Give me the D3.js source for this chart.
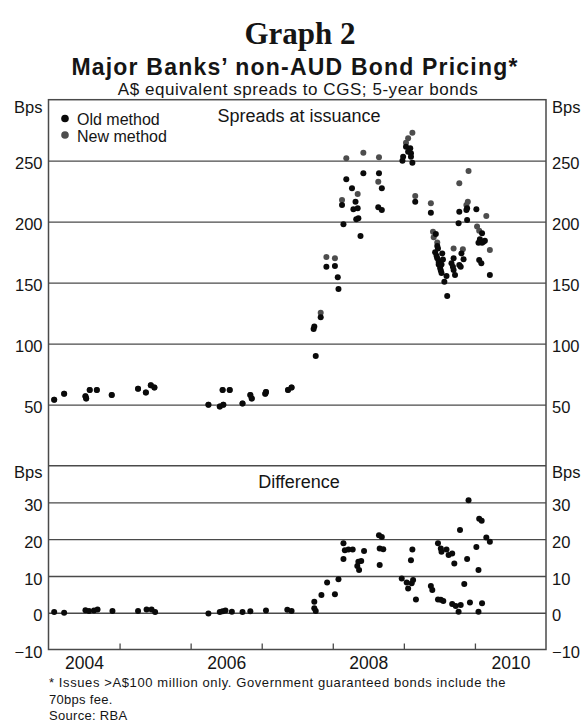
<!DOCTYPE html>
<html><head><meta charset="utf-8">
<script src="https://cdn.jsdelivr.net/npm/d3@7"></script>
<style>
html,body{margin:0;padding:0;background:#fff;}
svg text{font-family:"Liberation Sans",Arial,sans-serif;fill:#151515;}
</style></head>
<body>
<script>
// ---------- data ----------
const oldDates = [2004.08,2004.22,2004.52,2004.53,2004.58,2004.68,2004.89,2005.26,2005.37,2005.44,2005.49,
  2006.25,2006.41,2006.46,2006.45,2006.55,2006.73,2006.84,2006.86,2007.05,2007.06,2007.37,2007.42,
  2007.73,2007.74,2007.76,2007.83,2007.91,2008.03,2008.07,2008.08,2008.13,2008.15,2008.19,2008.27,2008.29,2008.35,
  2008.32,2008.33,2008.36,2008.39,2008.43,2008.65,2008.69,2008.64,2008.69,
  2009.09,2008.99,2009.10,2009.03,2009.10,2008.98,2009.12,2009.06,2009.16,2009.38,
  2009.45,2009.47,2009.44,2009.48,2009.46,2009.47,2009.49,2009.49,2009.51,2009.52,2009.53,2009.55,2009.54,2009.57,
  2009.53,2009.61,2009.60,2009.70,2009.67,2009.69,2009.70,2009.72,2009.81,2009.84,2009.78,2009.80,
  2009.89,2009.88,2010.02,2009.78,2009.89,2009.77,2010.10,2010.07,2010.12,2010.14,2010.05,2010.10,2010.06,2010.09,2010.21];
const oldSpreads = [54,59,57,55,62,62,58,63,60,66,64,
  50,48.5,50,62,62,51,58,55,59,60.5,62,64,
  112,114,90,121.6,163,163.7,154.4,144.8,213.7,198,234.8,227.4,210.2,211,
  216.4,202,202.8,188.3,239.7,239.7,227.4,211.8,209.6,
  260.2,253.3,256.1,261.5,253.3,250,248.4,257.4,216.4,207.4,
  190,180,175,178,172,170,167,165,162,160,158,169,174,150.8,
  165,139,155.5,170,166,163,160.4,156.3,174,169.2,164.5,163.1,
  211,209.6,210.2,208.2,201.4,198.7,190.5,185.6,183.6,184.4,182.8,182.8,168.6,165.9,156.3];
const newDates = [2004.08,2004.22,2004.52,2004.53,2004.58,2004.68,2004.89,2005.26,2005.37,2005.44,2005.49,
  2006.25,2006.41,2006.46,2006.45,2006.55,2006.73,2006.84,2006.86,2007.05,2007.06,2007.37,2007.42,
  2007.83,2007.91,2008.03,2008.13,2008.19,2008.35,2008.43,2008.65,2008.64,2009.12,2009.06,2009.03,2009.16,2009.38,
  2009.91,2009.78,2009.90,2009.88,2010.16,2009.41,2009.42,2009.47,2009.70,2009.83,2010.03,2010.06,2010.21];
const newSpreads = [54,59,57,55,62,62,58,63,60,66,64,
  50,48.5,50,62,62,51,58,55,59,60.5,62,64,
  125.4,171,170,217.8,252,222.7,256.6,252.8,232.8,273,268.4,264.8,221,215.1,
  241.6,231.5,216.4,213.7,204.7,191.8,187.3,183,178,177.4,196,192.6,176.8];
const diffDates = [2004.08,2004.22,2004.52,2004.57,2004.64,2004.69,2004.90,2005.26,2005.38,2005.45,2005.50,
  2006.25,2006.41,2006.45,2006.49,2006.58,2006.73,2006.84,2007.06,2007.36,2007.42,
  2007.74,2007.74,2007.76,2007.84,2007.92,2008.03,2008.08,2008.15,2008.15,2008.17,2008.22,2008.28,2008.44,
  2008.36,2008.40,2008.345,2008.37,2008.65,2008.69,2008.66,2008.71,2008.66,
  2008.97,2009.04,2009.06,2009.11,2009.13,2009.17,2009.12,2009.10,2009.38,2009.40,
  2009.48,2009.52,2009.53,2009.60,2009.63,2009.68,2009.71,2009.48,2009.52,2009.555,
  2009.68,2009.73,2009.80,2009.77,2009.79,2009.85,2009.89,2009.91,2009.93,2010.02,2010.05,2010.05,
  2010.06,2010.095,2010.10,2010.16,2010.21];
const diffValues = [0.2,0,0.7,0.5,0.6,0.9,0.5,0.5,0.9,0.9,0.2,
  -0.2,0.2,0.4,0.6,0.3,0.2,0.4,0.6,0.8,0.5,
  3,1.2,0.5,4.8,8.2,5,9.1,18.9,14.6,17,17.2,17.2,16.8,
  13.9,14.1,12.7,11.6,21.1,20.6,17.5,17.3,13,
  9.3,8.2,6.6,8,8.9,3.6,17.2,14.3,7.3,6.2,
  18.9,17.5,16.6,17.2,15.7,16.1,13.4,3.6,3.5,3.2,
  2.4,1.8,2.1,0.3,22.5,7.8,14.6,30.6,2.8,17.9,11.6,0.3,
  25.6,25,2.6,20.5,19.3];
const topTicks = [50,100,150,200,250];
const bottomTicks = [-10,0,10,20,30];
const yearTicks = [2005,2006,2007,2008,2009,2010];
const yearLabels = [2004,2006,2008,2010];
const legendLabels = ["Old method","New method"];

// ---------- layout ----------
const W = 587, H = 728;
const L = 48.5, R = 546, T = 99.7, MID = 465.7, B = 649.5;
const lineCol = "#4a4a4a", oldCol = "#0a0a0a", newCol = "#4d4d4d";
const tickFont = "16.5px";

const svg = d3.select("body").append("svg").attr("width", W).attr("height", H);
svg.append("rect").attr("width", W).attr("height", H).attr("fill", "#fff");

const x = d3.scaleLinear().domain([2004, 2011]).range([L, R]);
const yTop = d3.scaleLinear().domain([0, 300]).range([MID, T]);
const yBot = d3.scaleLinear().domain([-10, 40]).range([B, MID]);

// titles
svg.append("text").attr("x", 300).attr("y", 44).attr("text-anchor", "middle")
  .style("font-family", "'Liberation Serif','Times New Roman',serif").style("font-weight", "bold")
  .style("font-size", "31px").text("Graph 2");
svg.append("text").attr("x", 295).attr("y", 75).attr("text-anchor", "middle")
  .style("font-weight", "bold").style("font-size", "23px").style("letter-spacing", "1.2px")
  .text("Major Banks’ non-AUD Bond Pricing*");
svg.append("text").attr("x", 298).attr("y", 94.5).attr("text-anchor", "middle")
  .style("font-size", "17px").style("letter-spacing", "0.55px")
  .text("A$ equivalent spreads to CGS; 5-year bonds");

// gridlines via axes
function grid(scale, ticks) {
  const g = svg.append("g").attr("transform", `translate(${L},0)`)
    .call(d3.axisRight(scale).tickValues(ticks).tickSize(R - L).tickFormat(""));
  g.select(".domain").remove();
  g.selectAll("line").attr("stroke", lineCol).attr("stroke-width", 1.3);
}
grid(yTop, topTicks);
grid(yBot, bottomTicks.filter(d => d > -10));

// labels via axes
function labels(scale, ticks, side) {
  const ax = side === "left" ? d3.axisLeft(scale) : d3.axisRight(scale);
  const g = svg.append("g").attr("transform", `translate(${side === "left" ? L : R},0)`)
    .call(ax.tickValues(ticks).tickSize(0).tickPadding(side === "left" ? 6 : 6));
  g.select(".domain").remove();
  g.selectAll("text").style("font-size", tickFont).style("font-family", "'Liberation Sans',Arial,sans-serif")
    .attr("dy", "0.5em").attr("fill", "#151515");
}
labels(yTop, topTicks, "left");
labels(yTop, topTicks, "right");
labels(yBot, bottomTicks, "left");
labels(yBot, bottomTicks, "right");

// Bps unit labels
[[yTop(300) + 13.5], [yBot(40) + 12.5]].forEach(([yy]) => {
  svg.append("text").attr("x", L - 6).attr("y", yy).attr("text-anchor", "end").style("font-size", tickFont).text("Bps");
  svg.append("text").attr("x", R + 6).attr("y", yy).attr("text-anchor", "start").style("font-size", tickFont).text("Bps");
});

// frame
svg.append("rect").attr("x", L).attr("y", T).attr("width", R - L).attr("height", B - T)
  .attr("fill", "none").attr("stroke", lineCol).attr("stroke-width", 1.5);
svg.append("line").attr("x1", L).attr("x2", R).attr("y1", MID).attr("y2", MID)
  .attr("stroke", lineCol).attr("stroke-width", 1.5);

// x axis ticks and labels
const xt = svg.append("g").attr("transform", `translate(0,${B})`)
  .call(d3.axisBottom(x).tickValues(yearTicks).tickSize(-6).tickFormat(""));
xt.select(".domain").remove();
xt.selectAll("line").attr("stroke", lineCol).attr("stroke-width", 1.3);
const xl = svg.append("g").attr("transform", `translate(0,${B})`)
  .call(d3.axisBottom(x).tickValues(yearLabels.map(d => d + 0.5)).tickSize(0).tickPadding(7)
    .tickFormat((d, i) => String(yearLabels[i])));
xl.select(".domain").remove();
xl.selectAll("text").style("font-size", "17.5px").style("font-family", "'Liberation Sans',Arial,sans-serif").attr("fill", "#151515");

// panel titles
svg.append("text").attr("x", 299).attr("y", 122).attr("text-anchor", "middle").style("font-size", "18px").text("Spreads at issuance");
svg.append("text").attr("x", 299).attr("y", 488).attr("text-anchor", "middle").style("font-size", "18px").text("Difference");

// legend
legendLabels.forEach((lab, i) => {
  svg.append("circle").attr("cx", 65).attr("cy", 118.5 + i * 16.5).attr("r", 3.8).attr("fill", i ? newCol : oldCol);
  svg.append("text").attr("x", 77).attr("y", 125 + i * 16.5).style("font-size", "16px").text(lab);
});

// points
const r = 3;
svg.append("g").selectAll("circle").data(newDates.map((d, i) => [d, newSpreads[i]])).join("circle")
  .attr("cx", d => x(d[0])).attr("cy", d => yTop(d[1])).attr("r", r).attr("fill", newCol);
svg.append("g").selectAll("circle").data(oldDates.map((d, i) => [d, oldSpreads[i]])).join("circle")
  .attr("cx", d => x(d[0])).attr("cy", d => yTop(d[1])).attr("r", r).attr("fill", oldCol);
svg.append("g").selectAll("circle").data(diffDates.map((d, i) => [d, diffValues[i]])).join("circle")
  .attr("cx", d => x(d[0])).attr("cy", d => yBot(d[1])).attr("r", r).attr("fill", oldCol);

// footnotes
const notes = ["*   Issues >A$100 million only. Government guaranteed bonds include the", "70bps fee.", "Source: RBA"];
notes.forEach((t, i) => {
  svg.append("text").attr("x", 49).attr("y", 687 + i * 16.5).style("font-size", "13px")
    .style("letter-spacing", i === 0 ? "0.6px" : "0.3px").text(t);
});
</script>
</body></html>
